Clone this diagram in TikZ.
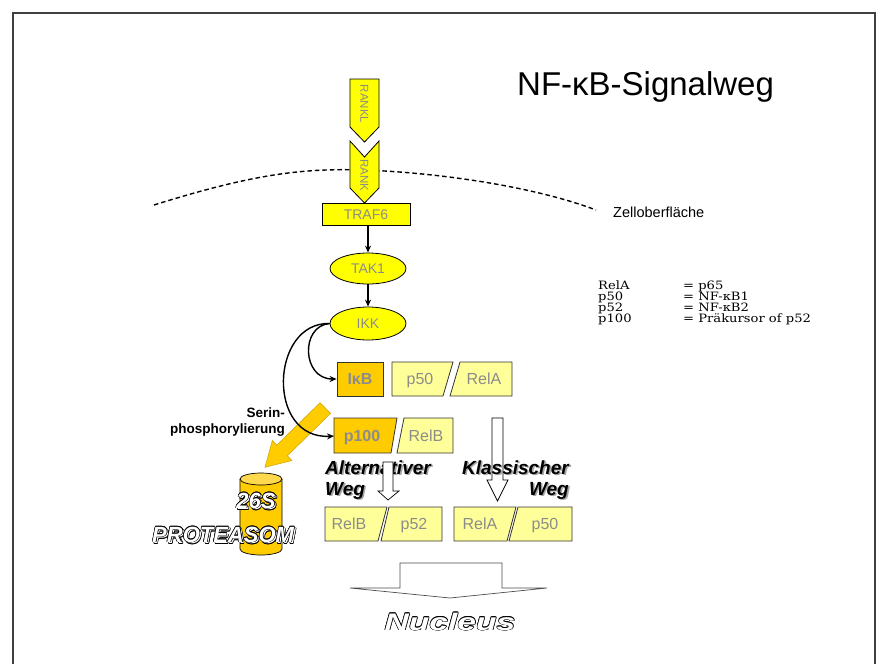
\documentclass[tikz,border=0pt]{standalone}
\usepackage{fontspec}
\setmainfont{Liberation Sans}
\newfontfamily\legfont{DejaVu Serif}[FakeStretch=1.14]
\usetikzlibrary{arrows.meta,shapes.geometric}
\definecolor{yel}{HTML}{FFFF00}
\definecolor{org}{HTML}{FFCC00}
\definecolor{orgl}{HTML}{FFD94D}
\definecolor{lyel}{HTML}{FFFF99}
\definecolor{gtxt}{HTML}{8C8C8C}
\definecolor{frame}{HTML}{404040}
\newcommand\olcopy[3]{\rlap{\kern#1\raisebox{#2}{#3}}}
% #1 = offset, #2 = diagonal offset, #3 = text
\newcommand\outl[3]{\leavevmode{\color{black}%
 \olcopy{#1}{0pt}{#3}\olcopy{-#1}{0pt}{#3}\olcopy{0pt}{#1}{#3}\olcopy{0pt}{-#1}{#3}%
 \olcopy{#2}{#2}{#3}\olcopy{-#2}{#2}{#3}\olcopy{#2}{-#2}{#3}\olcopy{-#2}{-#2}{#3}}%
 {\color{white}#3}}
\newcommand\shad[2]{\leavevmode{\color{#1}\olcopy{1.6pt}{-1.6pt}{#2}}#2}
\tikzset{
  conn/.style={line width=1.4pt,-{Stealth[length=7pt,width=6pt]}},
  yshape/.style={draw=black,line width=0.8pt,fill=yel},
  lbox/.style={draw=black!80,line width=0.8pt,fill=lyel},
  obox/.style={draw=black!80,line width=0.8pt,fill=org},
  gtext/.style={text=gtxt,font=\fontsize{16}{18}\selectfont,inner sep=0pt,text height=11.5pt,text depth=0pt},
  btext/.style={text=gtxt,font=\fontsize{16}{18}\selectfont\bfseries,inner sep=0pt,text height=11.5pt,text depth=0pt},
  smtext/.style={text=gtxt,font=\fontsize{14}{16}\selectfont,inner sep=0pt,text height=10pt,text depth=0pt},
  vtext/.style={text=gtxt,font=\fontsize{11.5}{13}\selectfont,inner sep=0pt,text height=8.3pt,text depth=0pt,rotate=-90},
  legtext/.style={font=\legfont\fontsize{11.5}{12}\selectfont,anchor=base west,inner sep=0pt},
  wayt/.style={font=\fontsize{19}{21}\selectfont\bfseries\itshape,inner sep=0pt},
  openarrow/.style={draw=black,line width=0.7pt,fill=white},
}
\begin{document}
\begin{tikzpicture}[x=1pt,y=-1pt]
\useasboundingbox (0,0) rectangle (877,664);
% frame
\draw[frame,line width=1.3pt] (13,664) -- (13,13) -- (875,13) -- (875,664);
% title
\node[anchor=base west,inner sep=0pt,font=\fontsize{33}{36}\selectfont] (title) at (517,95) {NF-κB-Signalweg};
% membrane
\draw[line width=1.4pt,dash pattern=on 4.5pt off 3pt] (154,205) .. controls (250,175) and (300,168) .. (362,170) .. controls (430,172) and (530,185) .. (596,210);
\node[anchor=base west,inner sep=0pt,font=\fontsize{14.5}{16}\selectfont] (zell) at (613,217) {Zelloberfläche};
% RANKL and RANK
\draw[yshape] (350,79) -- (379,79) -- (379,127) -- (364.5,142) -- (350,127) -- cycle;
\node[vtext] (rankl) at (364.5,104) {RANKL};
\draw[yshape] (350,141) -- (364.5,157) -- (379,141) -- (379,188) -- (364.5,203) -- (350,188) -- cycle;
\node[vtext] (rank) at (364.5,175) {RANK};
% TRAF6, TAK1, IKK
\node[yshape,smtext,minimum width=88pt,minimum height=22pt] (traf6) at (366,214.5) {TRAF6};
\node[yshape,smtext,ellipse,minimum width=76pt,minimum height=31pt] (tak1) at (368,268.5) {TAK1};
\node[yshape,smtext,ellipse,minimum width=76pt,minimum height=33pt] (ikk) at (368,323.5) {IKK};
\draw[conn] (traf6.south -| tak1.north) -- (tak1.north);
\draw[conn] (tak1) -- (ikk);
% top row complexes
\node[obox,btext,minimum width=46pt,minimum height=34pt] (ikb) at (360,379) {IκB};
\draw[lbox] (392,362) -- (453,362) -- (443,396) -- (392,396) -- cycle;
\node[gtext] (p50a) at (420,379) {p50};
\draw[lbox] (460,362) -- (512,362) -- (512,396) -- (450,396) -- cycle;
\node[gtext] (relaa) at (484,379) {RelA};
% p100 / RelB
\draw[obox] (334,418) -- (397,418) -- (391,453) -- (334,453) -- cycle;
\node[btext] (p100) at (362,436) {p100};
\coordinate (p100w) at (334,436);
\draw[lbox] (404,418) -- (453,418) -- (453,453) -- (397,453) -- cycle;
\node[gtext] (relba) at (426,436) {RelB};
% Serin label
\node[anchor=base east,inner sep=0pt,font=\fontsize{13.5}{15}\selectfont\bfseries] (serin1) at (285,417) {Serin-};
\node[anchor=base east,inner sep=0pt,font=\fontsize{13.5}{15}\selectfont\bfseries] (serin2) at (285,433) {phosphorylierung};
% big orange arrow
\draw[fill=org,draw=org!80!black,line width=0.5pt] (330.6,413.3) -- (320.0,402.7) -- (276.8,445.2) -- (272.3,440.5) -- (265,467.3) -- (291.9,460.5) -- (287.4,455.8) -- cycle;
% IKK curves (over the orange arrow)
\draw[conn] (ikk.west) .. controls (300,326) and (302,379) .. (ikb.west);
\draw[conn] (ikk.west) .. controls (270,322) and (266,440) .. (p100w);
% cylinder
\draw[fill=org,line width=0.7pt] (240,479) -- (240,549) arc[start angle=180,end angle=0,x radius=21,y radius=6] -- (282,479);
\draw[fill=orgl,line width=0.7pt] (261,479) ellipse [x radius=21,y radius=6];
\node[anchor=base,inner sep=0pt,font=\fontsize{22}{24}\selectfont\bfseries\itshape] (s26) at (256,508) {\shad{black!45}{\outl{0.55pt}{0.4pt}{26S}}};
\node[anchor=base west,inner sep=0pt,font=\fontsize{22}{24}\selectfont\bfseries\itshape] (prot) at (152,542) {\shad{black!45}{\outl{0.55pt}{0.4pt}{PROTEASOM}}};
% Klassischer arrow (behind text)
\draw[openarrow] (492,418) -- (503,418) -- (503,480) -- (508,480) -- (497.5,501) -- (487,480) -- (492,480) -- cycle;
% way labels
\node[wayt,anchor=base west] (alt1) at (325,474) {\shad{black!35}{Alternativer}};
\node[wayt,anchor=base west] (alt2) at (325,495) {\shad{black!35}{Weg}};
\node[wayt,anchor=base east] (kla1) at (569,474) {\shad{black!35}{Klassischer}};
\node[wayt,anchor=base east] (kla2) at (569,495) {\shad{black!35}{Weg}};
% alternative arrow (over text)
\draw[openarrow] (383,462) -- (393,462) -- (393,491) -- (399,491) -- (388,500) -- (378,491) -- (383,491) -- cycle;
% bottom complexes
\draw[lbox] (325,507) -- (387,507) -- (378,541) -- (325,541) -- cycle;
\node[gtext] (relbb) at (349,524) {RelB};
\draw[lbox] (389,507) -- (442,507) -- (442,541) -- (381,541) -- cycle;
\node[gtext] (p52) at (414,524) {p52};
\draw[lbox] (454,507) -- (516,507) -- (507,541) -- (454,541) -- cycle;
\node[gtext] (relab) at (480,524) {RelA};
\draw[lbox] (518,507) -- (572,507) -- (572,541) -- (509,541) -- cycle;
\node[gtext] (p50b) at (545,524) {p50};
% nucleus arrow
\draw[draw=black!70,line width=0.7pt,fill=white] (400,563) -- (502,563) -- (502,588) -- (547,588) -- (450,598) -- (350,588) -- (400,588) -- cycle;
\node[anchor=base,inner sep=0pt,font=\fontsize{24}{26}\selectfont\bfseries\itshape] (nucleus) at (450,630) {\scalebox{1.4}[1]{\outl{0.45pt}{0.32pt}{Nucleus}}};
% legend
\node[legtext] (l1a) at (598,289) {RelA};
\node[legtext] (l1b) at (683,289) {= p65};
\node[legtext] (l2a) at (598,300) {p50};
\node[legtext] (l2b) at (683,300) {= NF-κB1};
\node[legtext] (l3a) at (598,311) {p52};
\node[legtext] (l3b) at (683,311) {= NF-κB2};
\node[legtext] (l4a) at (598,322) {p100};
\node[legtext] (l4b) at (683,322) {= Präkursor of p52};
\end{tikzpicture}
\end{document}
